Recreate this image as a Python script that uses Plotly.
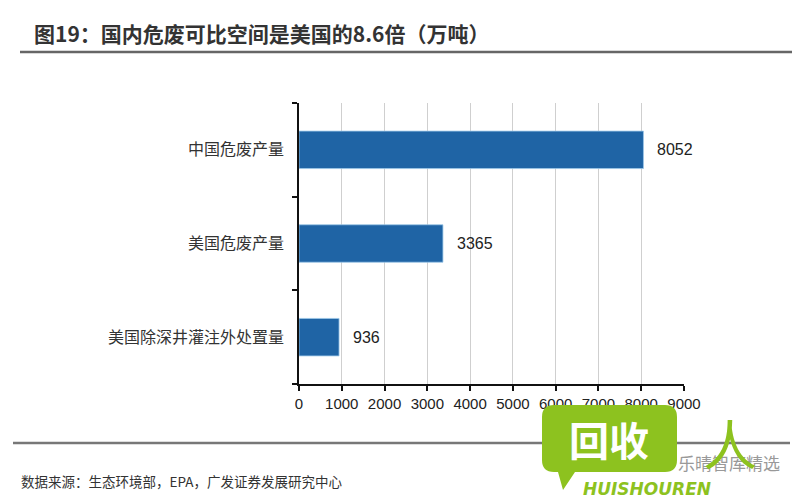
import plotly.graph_objects as go

# Data
categories = ["中国危废产量", "美国危废产量", "美国除深井灌注外处置量"]
values = [8052, 3365, 936]
x_ticks = [0, 1000, 2000, 3000, 4000, 5000, 6000, 7000, 8000, 9000]

title_text = "<b>图19：国内危废可比空间是美国的8.6倍（万吨）</b>"
source_text = "数据来源：生态环境部，EPA，广发证券发展研究中心"

W, H = 800, 500
L, R, T, B = 299, 684, 103, 384

def px(x):
    return (x - L) / (R - L)

def py(y):
    return (B - y) / (B - T)

bar_color = "#1F64A5"
cjk = "Noto Sans CJK SC"
latin = "Liberation Sans"

fig = go.Figure()
fig.add_trace(go.Bar(
    y=categories,
    x=values,
    orientation="h",
    marker=dict(color=bar_color, line=dict(color="#9cc8e8", width=0.8)),
    width=0.4,
    hoverinfo="x+y",
))

annotations = []
for c, v in zip(categories, values):
    annotations.append(dict(
        x=v, y=c, xref="x", yref="y", text=str(v), showarrow=False,
        xanchor="left", xshift=12, font=dict(family=latin, size=16, color="#222")
    ))

# Title and source
annotations.append(dict(x=px(32), y=py(33), xref="paper", yref="paper", text=title_text,
                        showarrow=False, xanchor="left", yanchor="middle",
                        font=dict(family=cjk, size=21, color="#333")))
annotations.append(dict(x=px(19), y=py(481), xref="paper", yref="paper", text=source_text,
                        showarrow=False, xanchor="left", yanchor="middle",
                        font=dict(family=cjk, size=13.5, color="#333")))

shapes = [
    dict(type="line", xref="paper", yref="paper", x0=px(20), x1=px(792), y0=py(52), y1=py(52),
         line=dict(color="#666", width=2.5)),
    dict(type="line", xref="paper", yref="paper", x0=px(13), x1=px(790), y0=py(443), y1=py(443),
         line=dict(color="#777", width=2.5)),
]

# Watermark logo (approximation)
green = "#8DC21F"
x0, x1, y0, y1, r = 542, 677, 405, 472, 12
pts = [
    f"M {px(x0+r)},{py(y0)}",
    f"L {px(x1-r)},{py(y0)}",
    f"Q {px(x1)},{py(y0)} {px(x1)},{py(y0+r)}",
    f"L {px(x1)},{py(y1-r)}",
    f"Q {px(x1)},{py(y1)} {px(x1-r)},{py(y1)}",
    f"L {px(575)},{py(y1)}",
    f"L {px(563)},{py(490)}",
    f"L {px(558)},{py(y1)}",
    f"L {px(x0+r)},{py(y1)}",
    f"Q {px(x0)},{py(y1)} {px(x0)},{py(y1-r)}",
    f"L {px(x0)},{py(y0+r)}",
    f"Q {px(x0)},{py(y0)} {px(x0+r)},{py(y0)}",
    "Z",
]
shapes.append(dict(type="path", xref="paper", yref="paper", path=" ".join(pts),
                   fillcolor=green, line=dict(width=0)))

annotations.append(dict(x=px(609), y=py(439), xref="paper", yref="paper", text="<b>回收</b>",
                        showarrow=False, xanchor="center", yanchor="middle",
                        font=dict(family=cjk, size=40, color="white")))
annotations.append(dict(x=px(647), y=py(489), xref="paper", yref="paper", text="<b><i>HUISHOUREN</i></b>",
                        showarrow=False, xanchor="center", yanchor="middle",
                        font=dict(family="DejaVu Sans", size=17, color=green)))
annotations.append(dict(x=px(729), y=py(462), xref="paper", yref="paper", text="乐晴智库精选",
                        showarrow=False, xanchor="center", yanchor="middle",
                        font=dict(family=cjk, size=17, color="#999")))
annotations.append(dict(x=px(730), y=py(442), xref="paper", yref="paper", text="人",
                        showarrow=False, xanchor="center", yanchor="middle",
                        font=dict(family=cjk, size=54, color=green)))

fig.update_layout(
    width=W, height=H,
    margin=dict(l=L, r=W - R, t=T, b=H - B, pad=0),
    paper_bgcolor="white", plot_bgcolor="white",
    showlegend=False,
    bargap=0.6,
    annotations=annotations,
    shapes=shapes,
    xaxis=dict(
        range=[0, 9000], tickvals=x_ticks, ticktext=[str(t) for t in x_ticks],
        showgrid=True, gridcolor="#cfcfcf", gridwidth=1,
        showline=True, linecolor="#111", linewidth=1.5,
        ticks="outside", ticklen=5, tickcolor="#111", tickwidth=1.5,
        tickfont=dict(family=latin, size=15, color="#222"),
        zeroline=False, fixedrange=True,
    ),
    yaxis=dict(
        categoryorder="array", categoryarray=categories[::-1],
        showline=True, linecolor="#111", linewidth=1.5,
        ticks="outside", ticklen=5, tickcolor="#111", tickwidth=1.5,
        tickson="boundaries", ticklabelstandoff=10,
        tickfont=dict(family=cjk, size=16, color="#333"),
        showgrid=False, fixedrange=True,
    ),
)

fig.write_html("out.html", config={"displayModeBar": False},
               post_script="document.body.style.margin='0';document.body.style.padding='0';")
